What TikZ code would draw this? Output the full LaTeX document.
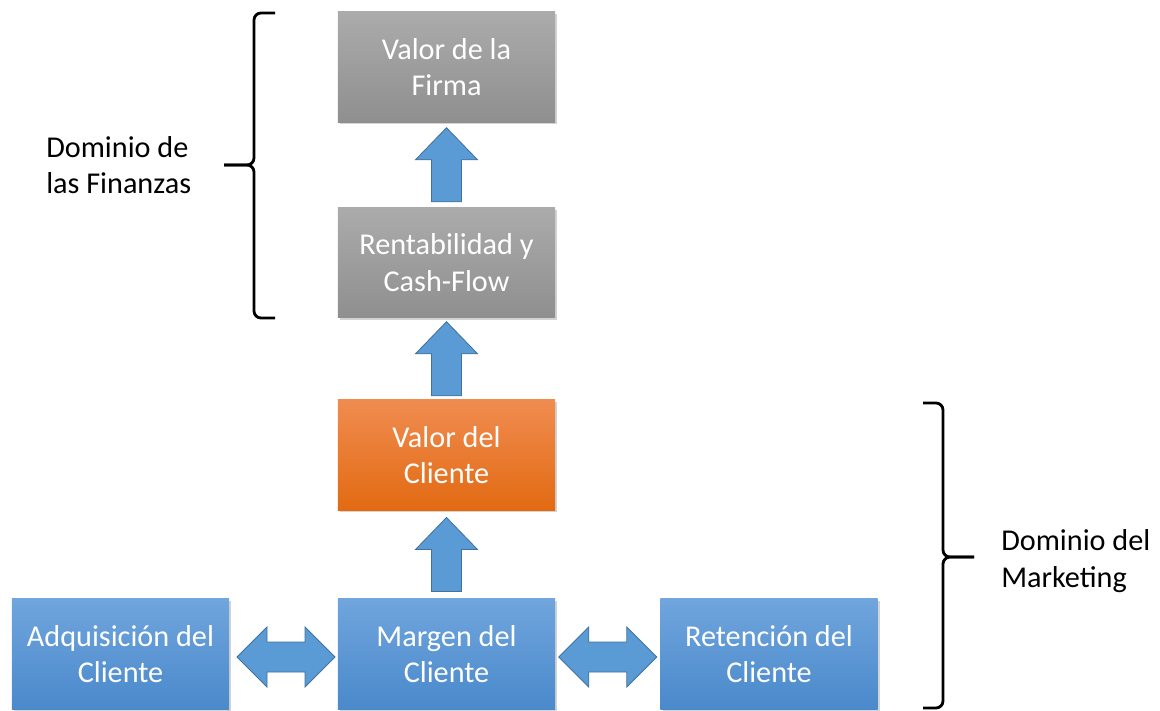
\documentclass[tikz,border=0pt]{standalone}
\usepackage{fontspec}
\setmainfont{Carlito}
\usetikzlibrary{calc,shadows}

\definecolor{grisA}{HTML}{ABABAB}
\definecolor{grisB}{HTML}{8F8F8F}
\definecolor{naranjaA}{HTML}{F08C50}
\definecolor{naranjaB}{HTML}{E26A12}
\definecolor{azulA}{HTML}{70A5DD}
\definecolor{azulB}{HTML}{4A89CB}
\definecolor{flecha}{HTML}{5B9BD5}
\definecolor{flechaborde}{HTML}{41719C}

\begin{document}
\begin{tikzpicture}[x=0.025cm,y=-0.025cm]
          \tikzstyle{caja}=[rectangle,minimum width=5.425cm,minimum height=2.75cm,inner sep=0pt,align=center,text=white,
            font=\fontsize{21.5}{26}\selectfont,drop shadow={shadow xshift=1.5pt,shadow yshift=-1.5pt,opacity=0.35}]
          \tikzstyle{gris}=[caja,top color=grisA,bottom color=grisB]
          \tikzstyle{naranja}=[caja,top color=naranjaA,bottom color=naranjaB]
          \tikzstyle{azul}=[caja,top color=azulA,bottom color=azulB]
          \tikzstyle{bloque}=[fill=flecha,draw=flechaborde,line width=0.6pt,line join=miter]
          \tikzstyle{llave}=[draw=black,line width=2pt,rounded corners=5pt]
          \tikzstyle{dominio}=[align=left,anchor=west,inner sep=0pt,font=\fontsize{21.5}{26}\selectfont]
          \tikzset{
            arriba/.pic={\draw[bloque] (-15,37) -- (-15,-5) -- (-31,-5) -- (0,-37) -- (31,-5) -- (15,-5) -- (15,37) -- cycle;},
            doble/.pic={\draw[bloque] (-49,0) -- (-19,-30) -- (-19,-15) -- (19,-15) -- (19,-30) -- (49,0) -- (19,30) -- (19,15) -- (-19,15) -- (-19,30) -- cycle;}
          }

          \useasboundingbox (0,0) rectangle (1160,711);

          \node (VF) at (446.5,67) [gris] {Valor de la\\Firma};
          \node (RC) at (446.5,262.5) [gris] {Rentabilidad y\\Cash-Flow};
          \node (VC) at (446.5,455) [naranja] {Valor del\\Cliente};
          \node (MC) at (446.5,654) [azul] {Margen del\\Cliente};
          \node (AC) at (120.5,654) [azul] {Adquisición del\\Cliente};
          \node (RT) at (769,654) [azul] {Retención del\\Cliente};

          \path (RC) -- coordinate (f1) (VF);
          \path (VC) -- coordinate (f2) (RC);
          \path (MC) -- coordinate (f3) (VC);
          \path (AC) -- coordinate (f4) (MC);
          \path (MC) -- coordinate (f5) (RT);
          \pic at (f1) {arriba};
          \pic at (f2) {arriba};
          \pic at (f3) {arriba};
          \pic at ($(f4)+(2.5,3)$) {doble};
          \pic at ($(f5)+(0,3)$) {doble};

          \coordinate (LF) at (224,165);
          \coordinate (LM) at (974,557);
          \draw[llave] (275,13) -| (254,165) -- (LF);
          \draw[llave] (275,318) -| (254,165) -- (LF);
          \draw[llave] (923,403) -| (943,557) -- (LM);
          \draw[llave] (923,708) -| (943,557) -- (LM);

          \node (DF) at (46,165) [dominio] {Dominio de\\las Finanzas};
          \node (DM) at (1001,561) [dominio] {Dominio del\\Marketing};
        \end{tikzpicture}
\end{document}
